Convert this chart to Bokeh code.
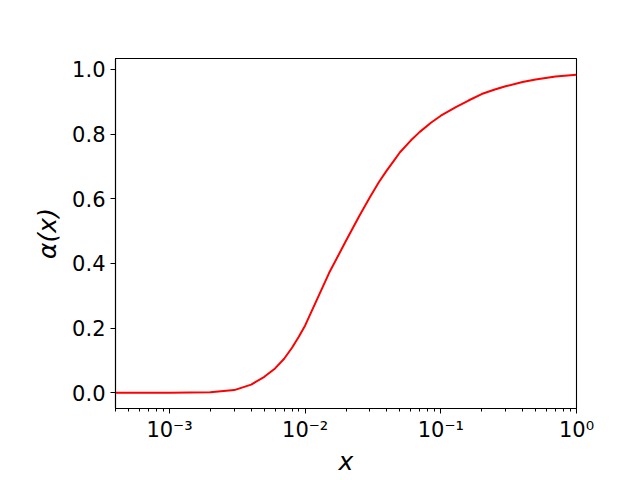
from bokeh.plotting import figure
from bokeh.models import Range1d, FixedTicker, CustomJSTickFormatter, NumeralTickFormatter
from bokeh.embed import file_html
from bokeh.resources import INLINE

# data
x_vals = [0.0004, 0.001, 0.002, 0.003, 0.004, 0.005, 0.006, 0.007, 0.008, 0.009,
          0.010, 0.012, 0.015, 0.020, 0.025, 0.030, 0.035, 0.040, 0.045, 0.050,
          0.060, 0.070, 0.085, 0.100, 0.130, 0.160, 0.200, 0.250, 0.300, 0.400,
          0.500, 0.700, 1.000]
alpha_vals = [0.0, 0.0, 0.001, 0.008, 0.025, 0.049, 0.075, 0.105, 0.139, 0.174,
              0.208, 0.281, 0.370, 0.470, 0.546, 0.605, 0.652, 0.688, 0.717, 0.744,
              0.780, 0.807, 0.836, 0.857, 0.884, 0.904, 0.924, 0.938, 0.948, 0.961,
              0.969, 0.978, 0.984]
y_ticks = [0.0, 0.2, 0.4, 0.6, 0.8, 1.0]

FONT = "DejaVu Sans"

p = figure(
    output_backend="svg", toolbar_location=None,
    x_axis_type="log",
    width=640, height=480,
    frame_width=461, frame_height=350,
    min_border_left=115, min_border_right=64, min_border_top=58, min_border_bottom=72,
    x_range=Range1d(4.0e-4, 1.0), y_range=Range1d(-0.049, 1.034),
    background_fill_color="white", border_fill_color="white",
)
p.grid.visible = False
p.outline_line_color = "black"
p.outline_line_width = 1.1

p.line(x_vals, alpha_vals, line_color="red", line_width=2)

for ax in (p.xaxis[0], p.yaxis[0]):
    ax.axis_line_color = "black"
    ax.axis_line_width = 1.1
    ax.major_tick_line_color = "black"
    ax.minor_tick_line_color = "black"
    ax.major_tick_in = 0
    ax.major_tick_out = 5
    ax.minor_tick_in = 0
    ax.minor_tick_out = 3
    ax.major_label_text_font = FONT
    ax.major_label_text_font_size = "21px"
    ax.major_label_text_color = "black"
    ax.axis_label_text_font = FONT
    ax.axis_label_text_font_size = "25px"
    ax.axis_label_text_font_style = "italic"
    ax.axis_label_text_color = "black"

p.xaxis[0].ticker.num_minor_ticks = 10
p.xaxis[0].formatter = CustomJSTickFormatter(code="""
const sup = {'-':'\u207b','0':'\u2070','1':'\u00b9','2':'\u00b2','3':'\u00b3','4':'\u2074',
             '5':'\u2075','6':'\u2076','7':'\u2077','8':'\u2078','9':'\u2079'};
const e = Math.round(Math.log10(tick));
return '10' + String(e).split('').map(c => sup[c]).join('');
""")
p.xaxis[0].major_label_text_font_size = "21px"
p.xaxis[0].axis_label = "x"
p.xaxis[0].axis_label_standoff = 2
p.xaxis[0].major_label_standoff = 4

p.yaxis[0].ticker = FixedTicker(ticks=y_ticks, minor_ticks=[])
p.yaxis[0].formatter = NumeralTickFormatter(format="0.0")
p.yaxis[0].axis_label = "α(x)"
p.yaxis[0].axis_label_standoff = 7
p.yaxis[0].major_label_standoff = 5

open("out.html", "w").write(file_html(p, INLINE))
